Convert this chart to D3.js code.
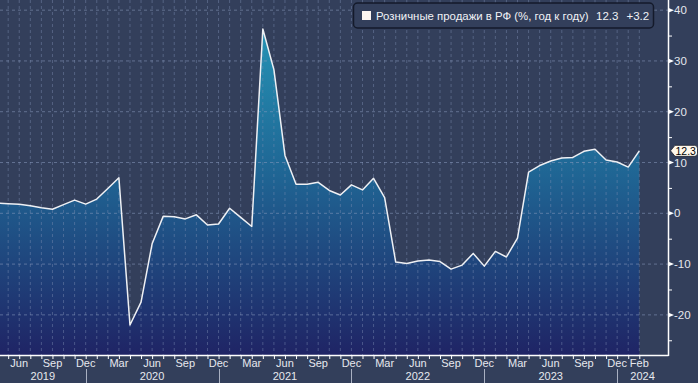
<!DOCTYPE html>
<html>
<head>
<meta charset="utf-8">
<script src="https://cdn.jsdelivr.net/npm/d3@7"></script>
<style>
  html, body { margin: 0; padding: 0; background: #333f5b; overflow: hidden; }
  svg { display: block; }
  text { font-family: "Liberation Sans", Arial, sans-serif; }
</style>
</head>
<body>
<svg id="chart" width="698" height="383"></svg>
<script>
// ---------- DATA ----------
const months = [
  "2019-04","2019-05","2019-06","2019-07","2019-08","2019-09","2019-10","2019-11","2019-12",
  "2020-01","2020-02","2020-03","2020-04","2020-05","2020-06","2020-07","2020-08","2020-09","2020-10","2020-11","2020-12",
  "2021-01","2021-02","2021-03","2021-04","2021-05","2021-06","2021-07","2021-08","2021-09","2021-10","2021-11","2021-12",
  "2022-01","2022-02","2022-03","2022-04","2022-05","2022-06","2022-07","2022-08","2022-09","2022-10","2022-11","2022-12",
  "2023-01","2023-02","2023-03","2023-04","2023-05","2023-06","2023-07","2023-08","2023-09","2023-10","2023-11","2023-12",
  "2024-01","2024-02"
];
const retailSales = [
  2.0, 1.9, 1.8, 1.5, 1.1, 0.8, 1.7, 2.6, 1.8,
  2.8, 4.9, 7.0, -22.0, -17.5, -6.0, -0.6, -0.7, -1.1, -0.3, -2.3, -2.1,
  1.0, -0.8, -2.6, 36.3, 28.3, 11.4, 5.7, 5.7, 6.1, 4.5, 3.6, 5.6,
  4.6, 6.9, 3.1, -9.6, -9.9, -9.4, -9.2, -9.5, -11.0, -10.2, -7.9, -10.4,
  -7.5, -8.6, -4.9, 8.1, 9.4, 10.3, 10.9, 11.0, 12.2, 12.6, 10.5, 10.1,
  9.1, 12.3
];
const xTickMonths = [
  "2019-06","2019-09","2019-12","2020-03","2020-06","2020-09","2020-12",
  "2021-03","2021-06","2021-09","2021-12","2022-03","2022-06","2022-09","2022-12",
  "2023-03","2023-06","2023-09","2023-12","2024-02"
];
const monthNames = ["Jan","Feb","Mar","Apr","May","Jun","Jul","Aug","Sep","Oct","Nov","Dec"];
const years = ["2019","2020","2021","2022","2023","2024"];
const yTicks = [-20, -10, 0, 10, 20, 30, 40];
const yMinorTicks = [-25, -15, -5, 5, 15, 25, 35];
const seriesName = "Розничные продажи в РФ (%, год к году)";
const lastValue = "12.3";
const lastChange = "+3.2";

// ---------- LAYOUT ----------
const W = 698, H = 383;
const plotRight = 668, plotBottom = 355;
const svg = d3.select("#chart");

const idx = new Map(months.map((m, i) => [m, i]));
const x = d3.scaleLinear().domain([0, months.length - 1]).range([-2.9, 639.3]);
const y = d3.scaleLinear().domain([-27.9, 42]).range([plotBottom, 0]);

// background
svg.append("rect").attr("width", W).attr("height", H).attr("fill", "#333f5b");

const defs = svg.append("defs");
const grad = defs.append("linearGradient").attr("id", "areaGrad")
  .attr("gradientUnits", "userSpaceOnUse")
  .attr("x1", 0).attr("y1", 0).attr("x2", 0).attr("y2", plotBottom);
grad.append("stop").attr("offset", "0").attr("stop-color", "#269cbb");
grad.append("stop").attr("offset", "0.5").attr("stop-color", "#1f6493");
grad.append("stop").attr("offset", "1").attr("stop-color", "#1f2465");

defs.append("clipPath").attr("id", "plotClip")
  .append("rect").attr("x", 0).attr("y", 0).attr("width", plotRight).attr("height", plotBottom);

const plot = svg.append("g").attr("clip-path", "url(#plotClip)");

// area
const area = d3.area()
  .x((d, i) => x(i))
  .y0(plotBottom)
  .y1(d => y(d));
plot.append("path").datum(retailSales)
  .attr("d", area)
  .attr("fill", "url(#areaGrad)");

// grid: vertical dashed lines at each month
plot.append("g").selectAll("line").data(months).join("line")
  .attr("x1", (d, i) => x(i)).attr("x2", (d, i) => x(i))
  .attr("y1", 0).attr("y2", plotBottom)
  .attr("stroke", "#7f8fb3").attr("stroke-opacity", 0.45)
  .attr("stroke-width", 1).attr("stroke-dasharray", "3,3");

// grid: horizontal dashed lines
plot.append("g").selectAll("line").data(yTicks).join("line")
  .attr("x1", 0).attr("x2", plotRight)
  .attr("y1", d => y(d)).attr("y2", d => y(d))
  .attr("stroke", "#8a9abd").attr("stroke-opacity", 0.55)
  .attr("stroke-width", 1).attr("stroke-dasharray", "3,3");

// line
const line = d3.line().x((d, i) => x(i)).y(d => y(d));
plot.append("path").datum(retailSales)
  .attr("d", line)
  .attr("fill", "none")
  .attr("stroke", "#eef0f4")
  .attr("stroke-width", 1.5)
  .attr("stroke-linejoin", "round");

// axes frame
svg.append("line").attr("x1", 0).attr("x2", plotRight + 0.5)
  .attr("y1", plotBottom + 0.5).attr("y2", plotBottom + 0.5)
  .attr("stroke", "#ffffff").attr("stroke-width", 1.5);
svg.append("line").attr("x1", plotRight + 0.5).attr("x2", plotRight + 0.5)
  .attr("y1", 0).attr("y2", plotBottom + 1)
  .attr("stroke", "#ffffff").attr("stroke-width", 1.5);

// right axis: major ticks (triangles) and labels
const yAxisG = svg.append("g");
yAxisG.selectAll("path.maj").data(yTicks).join("path")
  .attr("class", "maj")
  .attr("d", d => `M${plotRight},${y(d) - 2.5}L${plotRight + 6},${y(d)}L${plotRight},${y(d) + 2.5}Z`)
  .attr("fill", "#ffffff");
yAxisG.selectAll("line.min").data(yMinorTicks).join("line")
  .attr("class", "min")
  .attr("x1", plotRight).attr("x2", plotRight + 4)
  .attr("y1", d => y(d) + 0.5).attr("y2", d => y(d) + 0.5)
  .attr("stroke", "#ffffff").attr("stroke-width", 1);
yAxisG.selectAll("text").data(yTicks).join("text")
  .attr("x", plotRight + 6)
  .attr("y", d => y(d))
  .attr("dy", "0.36em")
  .attr("fill", "#e6e8ee")
  .attr("font-size", 11.5)
  .text(d => d);

// bottom axis: month ticks
const xAxisG = svg.append("g");
xAxisG.selectAll("line").data(months).join("line")
  .attr("x1", (d, i) => x(i) + 0.5).attr("x2", (d, i) => x(i) + 0.5)
  .attr("y1", plotBottom).attr("y2", plotBottom + 4)
  .attr("stroke", "#ffffff").attr("stroke-width", 1);
xAxisG.selectAll("text").data(xTickMonths).join("text")
  .attr("x", d => x(idx.get(d)))
  .attr("y", 367)
  .attr("text-anchor", "middle")
  .attr("fill", "#e6e8ee")
  .attr("font-size", 11)
  .text(d => monthNames[+d.slice(5) - 1]);

// year separators and labels
const decPos = years.slice(0, -1).map(yr => x(idx.get(yr + "-12")));
xAxisG.selectAll("line.sep").data(decPos).join("line")
  .attr("class", "sep")
  .attr("x1", d => Math.round(d) + 0.5).attr("x2", d => Math.round(d) + 0.5)
  .attr("y1", 369).attr("y2", H)
  .attr("stroke", "#a9b0c2").attr("stroke-width", 1);
xAxisG.selectAll("text.yr").data(years).join("text")
  .attr("class", "yr")
  .attr("x", yr => {
    if (idx.has(yr + "-01") && idx.has(yr + "-12")) return x(idx.get(yr + "-06"));
    const start = idx.has(yr + "-01") ? x(idx.get((+yr - 1) + "-12")) : 0;
    const end = idx.has(yr + "-12") ? x(idx.get(yr + "-12")) : plotRight;
    return (start + end) / 2;
  })
  .attr("y", 380)
  .attr("text-anchor", "middle")
  .attr("fill", "#e6e8ee")
  .attr("font-size", 11)
  .text(d => d);

// last value tag
const ly = y(retailSales[retailSales.length - 1]);
svg.append("path")
  .attr("d", `M670.5,${ly}L675,${ly - 5.5}L694.5,${ly - 5.5}Q697.5,${ly - 5.5} 697.5,${ly - 2.5}L697.5,${ly + 2.5}Q697.5,${ly + 5.5} 694.5,${ly + 5.5}L675,${ly + 5.5}Z`)
  .attr("fill", "#fff8ec").attr("stroke", "#1a1f2e").attr("stroke-width", 0.8);
svg.append("text").attr("x", 675.5).attr("y", ly).attr("dy", "0.36em")
  .attr("fill", "#000000").attr("font-size", 10.5).text(lastValue);

// legend
const lg = svg.append("g");
lg.append("rect").attr("x", 353.5).attr("y", 3).attr("width", 300).attr("height", 25)
  .attr("rx", 4).attr("fill", "#333f5b").attr("stroke", "#141a2b").attr("stroke-width", 1.5);
lg.append("rect").attr("x", 362).attr("y", 11).attr("width", 9).attr("height", 9)
  .attr("fill", "#fdf6f2");
lg.append("text").attr("x", 376).attr("y", 20).attr("fill", "#f0f2f6")
  .attr("font-size", 11.4).text(seriesName);
lg.append("text").attr("x", 596).attr("y", 20).attr("fill", "#f0f2f6")
  .attr("font-size", 11.5).text(lastValue);
lg.append("text").attr("x", 626.5).attr("y", 20).attr("fill", "#f0f2f6")
  .attr("font-size", 11.5).text(lastChange);
</script>
</body>
</html>
